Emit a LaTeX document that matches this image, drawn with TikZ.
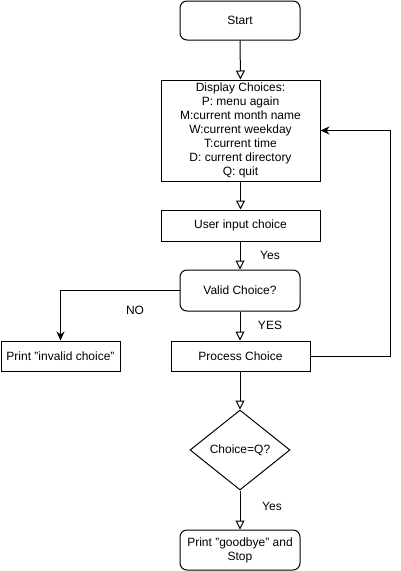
\documentclass[tikz,border=0pt]{standalone}
\usepackage{fontspec}
\setmainfont{Liberation Sans}
\usetikzlibrary{arrows.meta,shapes.geometric}
\begin{document}
\begin{tikzpicture}[x=1pt,y=-1pt,
  every node/.style={font=\fontsize{12}{14}\selectfont, inner sep=0pt},
  box/.style={draw, line width=1pt, align=center},
  rbox/.style={box, rounded corners=7pt},
  decision/.style={draw, line width=1pt, diamond, aspect=1.25},
  flow/.style={draw, line width=1pt, -{Triangle[open,length=9pt,width=9pt]}},
  flowf/.style={draw, line width=1pt, -{Stealth[length=9pt,width=8pt]}},
  lbl/.style={}]
\useasboundingbox (0,0) rectangle (401,571);
\node[rbox, minimum width=120, minimum height=39] (start) at (240,20.5) {Start};
\node[box, minimum width=159, minimum height=101] (disp) at (240.5,130.5)
  {Display Choices:\\P: menu again\\M:current month name\\W:current weekday\\T:current time\\D: current directory\\Q: quit};
\node[box, minimum width=159, minimum height=31] (user) at (240.5,225.5) {User input choice};
\node[rbox, minimum width=120, minimum height=41] (valid) at (240,290.5) {Valid Choice?};
\node[box, minimum width=119, minimum height=30] (inval) at (60.5,356) {Print "invalid choice"};
\node[box, minimum width=139, minimum height=30] (proc) at (240.5,356) {Process Choice};
\node[decision, minimum width=100, minimum height=80] (dec) at (240,450) {Choice=Q?};
\node[rbox, minimum width=120, minimum height=40] (bye) at (240,550) {Print "goodbye" and\\Stop};
\node[lbl] (l1) at (270,255) {Yes};
\node[lbl] (l2) at (135,310) {NO};
\node[lbl] (l3) at (270,325) {YES};
\node[lbl] (l4) at (272,506) {Yes};
\coordinate (c1) at (390,356);
\draw[flow] (start.south) -- (disp.north);
\draw[flow] (disp.south -| user.north) -- (user.north);
\draw[flow] (user.south -| valid.north) -- (valid.north);
\draw[flowf] (valid.west) -| (inval.north);
\draw[flow] (valid.south) -- (valid.south |- proc.north);
\draw[flowf] (proc.east) -- (c1) |- (disp.east);
\draw[flow] (proc.south -| dec.north) -- (dec.north);
\draw[flow] (dec.south) -- (bye.north);
\end{tikzpicture}
\end{document}
